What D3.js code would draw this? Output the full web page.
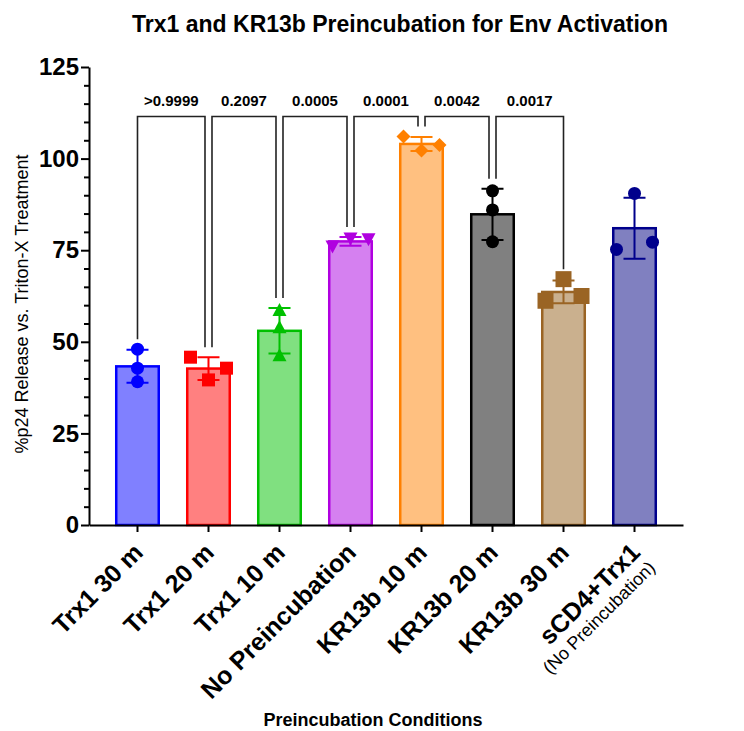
<!DOCTYPE html>
<html>
<head>
<meta charset="utf-8">
<script src="https://cdn.jsdelivr.net/npm/d3@7"></script>
<style>
  body { margin: 0; background: #fff; }
  svg { font-family: "Liberation Sans", Arial, sans-serif; }
</style>
</head>
<body>
<svg id="chart" width="744" height="731"></svg>
<script>
"use strict";

// groups along the x axis
const categories = ["Trx1 30 m", "Trx1 20 m", "Trx1 10 m", "No Preincubation",
                    "KR13b 10 m", "KR13b 20 m", "KR13b 30 m", "sCD4+Trx1"];
const subLabels = ["", "", "", "", "", "", "", "(No Preincubation)"];

// replicate values (entry order)
const replicates = [
  [48.0, 42.8, 39.1],
  [45.8, 42.8, 39.6],
  [58.7, 54.0, 46.3],
  [76.0, 78.0, 78.2],
  [106.0, 103.7, 102.2],
  [91.2, 86.0, 77.3],
  [67.1, 61.2, 62.5],
  [90.5, 75.2, 77.2]
];
// bar = mean, error bar = SD
const means = [43.3, 42.7, 53.0, 77.4, 104.0, 84.8, 63.6, 81.0];
const sds   = [4.5, 3.1, 6.2, 1.2, 1.9, 7.0, 3.1, 8.3];

// multiple comparisons between neighbours
const comparisons = [[0, 1], [1, 2], [2, 3], [3, 4], [4, 5], [5, 6]];
const pValues = [">0.9999", "0.2097", "0.0005", "0.0001", "0.0042", "0.0017"];

const yTicks = [0, 25, 50, 75, 100, 125];

// look
const strokes = ["#0000ff", "#ff0000", "#00c000", "#b000e0", "#ff8000", "#000000", "#9a6424", "#00008c"];
const fills   = ["#8080ff", "#ff8080", "#80e080", "#d580f0", "#ffc080", "#808080", "#cab08e", "#8080c0"];
const shapes  = ["circle", "square", "triangle", "triangleDown", "diamond", "circle", "bigSquare", "circle"];

const svg = d3.select("#chart");
const plotLeft = 89, plotRight = 683, plotBottom = 525, plotTop = 67;

const x = d3.scaleBand().domain(d3.range(categories.length))
    .range([plotLeft, plotRight]).paddingInner(0.366).paddingOuter(0.366);
const y = d3.scaleLinear().domain([0, 125]).range([plotBottom, plotTop]);
const bw = x.bandwidth();
const cx = i => x(i) + bw / 2;

function shapePath(kind) {
    const p = d3.path();
    if (kind === "circle") { p.arc(0, 0, 6.5, 0, 2 * Math.PI); }
    else if (kind === "square") { p.rect(-6.5, -6.5, 13, 13); }
    else if (kind === "bigSquare") { p.rect(-8, -8, 16, 16); }
    else if (kind === "triangle") { p.moveTo(0, -7); p.lineTo(7, 6); p.lineTo(-7, 6); p.closePath(); }
    else if (kind === "triangleDown") { p.moveTo(0, 7); p.lineTo(7, -6); p.lineTo(-7, -6); p.closePath(); }
    else if (kind === "diamond") { p.moveTo(0, -7); p.lineTo(7, 0); p.lineTo(0, 7); p.lineTo(-7, 0); p.closePath(); }
    return p.toString();
}

// spread replicates sideways when they would overlap (slot -1,0,1 ...)
function spread(vals) {
    const placed = [];
    const near = (a, b) => Math.abs(y(a) - y(b)) < 12.5;
    const free = (slot, v) => !placed.some(p => p.slot === slot && near(p.v, v));
    vals.forEach(v => {
        const hit = placed.find(p => p.slot === 0 && near(p.v, v));
        if (!hit) { placed.push({v: v, slot: 0}); return; }
        if (free(-1, hit.v) && free(-1, v) && free(1, v)) {
            hit.slot = -1;
            placed.push({v: v, slot: 1});
            return;
        }
        const s = [-1, 1, -2, 2].find(k => free(k, v));
        placed.push({v: v, slot: s});
    });
    return placed;
}

// title
svg.append("text").attr("x", 400).attr("y", 32).attr("text-anchor", "middle")
    .style("font-size", "23px").style("font-weight", "bold")
    .text("Trx1 and KR13b Preincubation for Env Activation");

// bars, error bars, points
const g = svg.append("g");
categories.forEach((c, i) => {
    g.append("rect")
        .attr("x", x(i) + 1.25).attr("width", bw - 2.5)
        .attr("y", y(means[i])).attr("height", y(0) - y(means[i]))
        .attr("fill", fills[i]).attr("stroke", strokes[i]).attr("stroke-width", 2.5);

    const hi = y(means[i] + sds[i]), lo = y(means[i] - sds[i]);
    g.append("path")
        .attr("d", `M${cx(i)},${hi}V${lo}M${cx(i) - 11},${hi}H${cx(i) + 11}M${cx(i) - 11},${lo}H${cx(i) + 11}`)
        .attr("stroke", strokes[i]).attr("stroke-width", 2).attr("fill", "none");

    spread(replicates[i]).forEach(p => {
        g.append("path").attr("d", shapePath(shapes[i]))
            .attr("transform", `translate(${cx(i) + p.slot * 18},${y(p.v)})`)
            .attr("fill", strokes[i]);
    });
});

// axes
const yAxis = svg.append("g").attr("transform", `translate(${plotLeft},0)`)
    .call(d3.axisLeft(y).tickValues(yTicks).tickSize(8).tickSizeOuter(0).tickPadding(2));
svg.append("g").attr("transform", `translate(${plotLeft},0)`)
    .call(d3.axisLeft(y).tickValues(d3.range(5, 125, 5).filter(v => v % 25 !== 0))
        .tickSize(5).tickFormat(""))
    .call(a => a.select(".domain").remove());
yAxis.selectAll("text").style("font-size", "24px").style("font-weight", "bold")
    .style("font-family", "Liberation Sans, Arial, sans-serif").attr("fill", "#000");

const labelShift = "translate(7,29) rotate(-45)";
const xAxis = svg.append("g").attr("transform", `translate(0,${plotBottom})`)
    .call(d3.axisBottom(x).tickSize(7).tickSizeOuter(0).tickFormat(i => categories[i]));
xAxis.selectAll("text")
    .attr("text-anchor", "end").attr("dy", null).attr("y", null)
    .attr("transform", labelShift)
    .style("font-size", "25px").style("font-weight", "bold")
    .style("font-family", "Liberation Sans, Arial, sans-serif").attr("fill", "#000");
xAxis.selectAll(".tick").filter(i => subLabels[i] !== "")
    .append("text")
    .attr("text-anchor", "end")
    .attr("transform", labelShift)
    .attr("y", 21)
    .style("font-size", "18px")
    .style("font-family", "Liberation Sans, Arial, sans-serif").attr("fill", "#000")
    .text(i => subLabels[i]);

svg.selectAll(".domain").attr("stroke-width", 2);
svg.selectAll(".tick line").attr("stroke-width", 2);

// significance brackets
const brY = y(111.5);
const topOf = i => Math.max(d3.max(replicates[i]), means[i] + sds[i]);
const br = svg.append("g");
comparisons.forEach((pair, k) => {
    const a = pair[0], b = pair[1];
    const hasLeft = comparisons.some(q => q[1] === a);
    const hasRight = comparisons.some(q => q[0] === b);
    const x1 = cx(a) + (hasLeft ? 3.5 : 0);
    const x2 = cx(b) - (hasRight ? 3.5 : 0);
    br.append("path")
        .attr("d", `M${x1},${y(topOf(a)) - 10}V${brY}H${x2}V${y(topOf(b)) - 10}`)
        .attr("fill", "none").attr("stroke", "#222").attr("stroke-width", 1.6);
    br.append("text").attr("x", (x1 + x2) / 2).attr("y", brY - 10)
        .attr("text-anchor", "middle")
        .style("font-size", "15px").style("font-weight", "bold")
        .text(pValues[k]);
});

// axis titles
svg.append("text")
    .attr("transform", `translate(28,${(plotTop + plotBottom) / 2 + 8}) rotate(-90)`)
    .attr("text-anchor", "middle").style("font-size", "18px")
    .text("%p24 Release vs. Triton-X Treatment");
svg.append("text").attr("x", 373).attr("y", 726).attr("text-anchor", "middle")
    .style("font-size", "18px").style("font-weight", "bold")
    .text("Preincubation Conditions");
</script>
</body>
</html>
